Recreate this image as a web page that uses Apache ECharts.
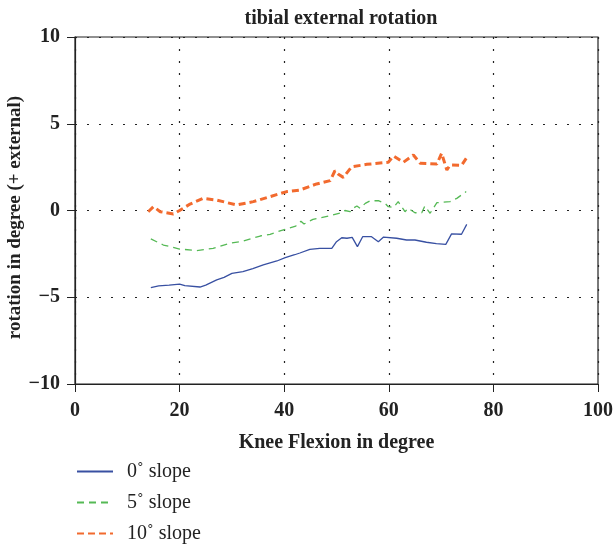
<!DOCTYPE html>
<html><head><meta charset="utf-8">
<script src="https://cdn.jsdelivr.net/npm/echarts@6/dist/echarts.min.js"></script>
<style>html,body{margin:0;padding:0;background:#fff}#c{width:614px;height:546px}</style>
</head><body><div id="c"></div>
<script>
const title = 'tibial external rotation';
const xName = 'Knee Flexion in degree';
const yName = 'rotation in degree (+ external)';
const seriesNames = ['0˚ slope', '5˚ slope', '10˚ slope'];

const flex0 = [14.5,16,18,20,21,23.9,25,27.1,28.5,30,32.1,34,36,38.6,40.2,42,43,44.9,46.8,49.1,50,51,52,53,54,55,56.7,58,59,61.5,63.4,65,67.2,69.1,70.9,72,73.9,74.9];
const rot0  = [-4.45,-4.35,-4.3,-4.24,-4.33,-4.41,-4.3,-4.0,-3.85,-3.62,-3.52,-3.35,-3.14,-2.91,-2.72,-2.55,-2.45,-2.24,-2.18,-2.18,-1.8,-1.57,-1.6,-1.55,-2.08,-1.51,-1.51,-1.8,-1.53,-1.6,-1.7,-1.7,-1.83,-1.91,-1.95,-1.35,-1.37,-0.8];

const flex5 = [14.5,16.9,20,23.3,26.4,29.6,32.2,35.4,37.3,40.2,42.2,43.2,43.8,45.5,48.8,51,51.6,52.6,53.2,53.9,54.5,55.5,56.4,58,59.3,59.9,60.9,61.8,62.1,63.1,63.7,65,66.3,66.9,67.9,68.5,69.2,71.7,73,74.8];
const rot5  = [-1.64,-1.99,-2.22,-2.31,-2.18,-1.89,-1.76,-1.47,-1.37,-1.08,-0.9,-0.62,-0.78,-0.51,-0.3,-0.13,0,-0.07,0.13,0.26,0.13,0.41,0.55,0.57,0.41,0.22,0.18,0.51,0.55,-0.07,0.13,-0.13,-0.13,0.26,-0.16,0.13,0.45,0.51,0.7,1.09];

const flex10 = [14,15,16.3,18.8,20,22,24.5,27.1,30.9,34.1,37.3,40.5,43,46.2,48.8,49.7,50.3,51.3,52.9,55.8,59.9,60.9,62.8,64.7,66,69.2,70.1,71.1,71.7,73.9,74.8];
const rot10  = [-0.07,0.22,-0.07,-0.2,0,0.37,0.7,0.6,0.32,0.51,0.8,1.09,1.18,1.53,1.72,2.29,2.1,1.91,2.52,2.66,2.78,3.14,2.78,3.2,2.72,2.68,3.3,2.33,2.62,2.6,3.0];

const xTicks = {min: 0, max: 100, interval: 20};
const yTicks = {min: -10, max: 10, interval: 5};

const pair = (xs, ys) => xs.map((x, i) => [x, ys[i]]);
const serif = '"Liberation Serif", "DejaVu Serif", serif';
const fmt = v => v < 0 ? '\u2212' + Math.abs(v) : String(v);

const chart = echarts.init(document.getElementById('c'), null, {renderer: 'canvas'});
chart.setOption({
  animation: false,
  backgroundColor: '#fff',
  title: {
    text: title, left: 336, top: 4, textAlign: 'center',
    textStyle: {fontFamily: serif, fontWeight: 'bold', fontSize: 20, color: '#222'}
  },
  grid: {left: 75, right: 16, top: 37, bottom: 162, show: true, borderColor: '#222', borderWidth: 1.2,
         backgroundColor: 'transparent', containLabel: false, outerBoundsMode: 'none'},
  legend: {
    orient: 'vertical', left: 76, top: 461.5, height: 90, padding: 0,
    itemWidth: 36, itemHeight: 14, itemGap: 11,
    data: seriesNames,
    itemStyle: {opacity: 0},
    textStyle: {fontFamily: serif, fontSize: 20, lineHeight: 20, color: '#222', padding: [0, 0, 0, 9]}
  },
  xAxis: {
    type: 'value', min: xTicks.min, max: xTicks.max, interval: xTicks.interval,
    name: xName, nameLocation: 'middle', nameGap: 49, nameMoveOverlap: false,
    nameTextStyle: {fontFamily: serif, fontWeight: 'bold', fontSize: 20, color: '#222'},
    axisLine: {onZero: false, lineStyle: {color: '#222', width: 1.2}},
    axisTick: {show: true, inside: false, length: 8, lineStyle: {color: '#222'}},
    axisLabel: {fontFamily: serif, fontWeight: 'bold', fontSize: 20, color: '#222', margin: 17, formatter: fmt},
    splitLine: {show: true, lineStyle: {color: '#222', type: [2, 10], width: 1.2}}
  },
  yAxis: {
    type: 'value', min: yTicks.min, max: yTicks.max, interval: yTicks.interval,
    name: yName, nameLocation: 'middle', nameGap: 50, nameRotate: 90, nameMoveOverlap: false,
    nameTextStyle: {fontFamily: serif, fontWeight: 'bold', fontSize: 19, color: '#222', padding: [0, 14, 0, 0]},
    axisLine: {show: true, onZero: false, lineStyle: {color: '#222', width: 1.2}},
    axisTick: {show: true, inside: false, length: 8, lineStyle: {color: '#222'}},
    axisLabel: {fontFamily: serif, fontWeight: 'bold', fontSize: 20, color: '#222', margin: 15, formatter: fmt},
    splitLine: {show: true, lineStyle: {color: '#222', type: [2, 10], width: 1.2}}
  },
  series: [
    {name: seriesNames[0], type: 'line', data: pair(flex0, rot0), symbol: 'none', color: '#3850a2',
     lineStyle: {color: '#3850a2', width: 1.3, type: 'solid'}},
    {name: seriesNames[1], type: 'line', data: pair(flex5, rot5), symbol: 'none', color: '#55b955',
     lineStyle: {color: '#55b955', width: 1.3, type: [7, 5]}},
    {name: seriesNames[2], type: 'line', data: pair(flex10, rot10), symbol: 'none', color: '#f26a2e',
     lineStyle: {color: '#f26a2e', width: 3, type: [7, 4]}}
  ]
});
</script></body></html>
